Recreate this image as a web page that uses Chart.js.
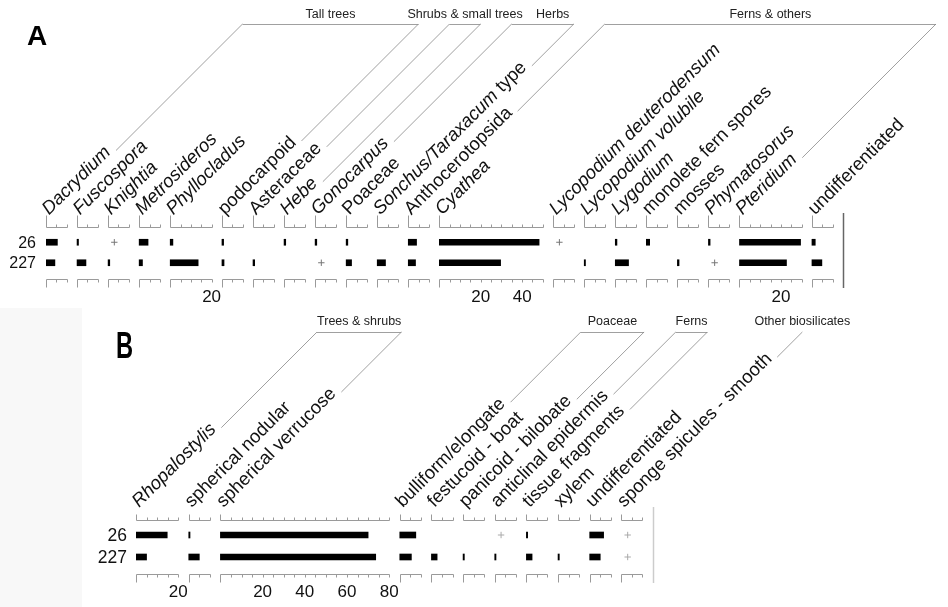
<!DOCTYPE html>
<html><head><meta charset="utf-8">
<script src="https://cdn.jsdelivr.net/npm/chart.js@4/dist/chart.umd.min.js"></script>
<style>
html,body{margin:0;padding:0;background:#fff;}
#wrap{position:relative;width:948px;height:607px;overflow:hidden;background:#fff;}
#wrap canvas{position:absolute;left:0;top:0;}
</style></head><body>
<div id="wrap">
<div style="position:absolute;left:0;top:308px;width:82px;height:299px;background:#f8f8f8"></div>
<canvas id="cA" width="948" height="607"></canvas>
<canvas id="cB" width="948" height="607"></canvas>
</div>
<script>
// ---------- data ----------
const samples = ['26', '227'];

// Panel A (pollen & spores, %)
const taxaA = ['*Dacrydium*','*Fuscospora*','*Knightia*','*Metrosideros*','*Phyllocladus*','podocarpoid','Asteraceae','*Hebe*','*Gonocarpus*','Poaceae','*Sonchus/Taraxacum* type','Anthocerotopsida','*Cyathea*','*Lycopodium deuterodensum*','*Lycopodium volubile*','*Lygodium*','monolete fern spores','mosses','*Phymatosorus*','*Pteridium*','undifferentiated'];
const axisMaxA = [10,10,10,10,20,10,10,10,10,10,10,10,50,10,10,10,10,10,10,30,10];
const valuesA_26  = [5.5,0.7,'+',4.3,1.3,0.8,null,0.8,0.8,0.8,null,4.0,48.2,'+',null,0.8,1.6,null,0.8,29.5,1.6];
const valuesA_227 = [4.3,4.3,0.8,1.6,13.5,1.0,0.8,null,'+',2.6,4.0,3.5,29.6,null,0.6,6.4,null,0.8,'+',22.7,4.8];
const groupsA = ['Tall trees','Shrubs & small trees','Herbs','Ferns & others'];
const groupFromA = [0,6,8,11];
const groupToA = [5,7,10,19];

// Panel B (phytoliths & biosilicates, %)
const taxaB = ['*Rhopalostylis*','spherical nodular','spherical verrucose','bulliform/elongate','festucoid - boat','panicoid - bilobate','anticlinal epidermis','tissue fragments','xylem','undifferentiated','sponge spicules - smooth'];
const axisMaxB = [20,10,80,10,10,10,10,10,10,10,10];
const valuesB_26  = [14.8,0.6,70.0,7.6,null,null,'+',0.6,null,6.6,'+'];
const valuesB_227 = [5.0,5.0,73.6,5.5,2.7,0.6,0.6,2.7,0.6,5.0,'+'];
const groupsB = ['Trees & shrubs','Poaceae','Ferns','Other biosilicates'];
const groupFromB = [0,3,6,10];
const groupToB = [2,5,7,10];

const tickStep = 5, tickLabelStep = 20, gapUnits = 5;

// ---------- layout ----------
const layoutA = {letter:'A', padding:{left:46,right:105,top:232,bottom:334}, axisTop:227, axisBot:279, topTick:12,
  rowFont:16, rowGap:10, groupLineY:24, groupTextY:18, labelRise:11.5, traceColor:'#777', frameColor:'#666',
  frameTop:213, frameBot:288, groupShift:{2:10}};
const layoutB = {letter:'B', padding:{left:136,right:295,top:524,bottom:39}, axisTop:520, axisBot:574, topTick:6,
  rowFont:17.5, rowGap:9, groupLineY:332, groupTextY:325, labelRise:12, traceColor:'#aaa', frameColor:'#ccc',
  frameTop:507, frameBot:583, groupShift:{}};

const FONT = '"Liberation Sans", Arial, Helvetica, sans-serif';
const LABEL_SIZE = 18.5;

function segs(str){ return str.split('*').map((t,k)=>({text:t, italic:k%2===1})).filter(s=>s.text.length); }
function segFont(s,size){ return (s.italic?'italic ':'') + size + 'px ' + FONT; }
function richWidth(ctx, ss, size){ let w=0; ss.forEach(s=>{ctx.font=segFont(s,size); w+=ctx.measureText(s.text).width;}); return w; }
function drawRich(ctx, ss, size){ let x=0; ss.forEach(s=>{ctx.font=segFont(s,size); ctx.fillText(s.text,x,0); x+=ctx.measureText(s.text).width;}); }
function line(ctx,x1,y1,x2,y2){ ctx.beginPath(); ctx.moveTo(x1,y1); ctx.lineTo(x2,y2); ctx.stroke(); }

function build(id, taxa, axisMax, vals, groups, gFrom, gTo, L){
  let s = 0;
  const starts = axisMax.map(r=>{ const v=s; s += r + gapUnits; return v; });
  const xMax = s;
  const datasets = [];
  taxa.forEach((t,i)=>{
    datasets.push({type:'bar', label:t.replace(/\*/g,''),
      data: samples.map((_,j)=> typeof vals[j][i]==='number' ? [starts[i], starts[i]+vals[j][i]] : null),
      backgroundColor:'#000', borderWidth:0, barThickness:6, grouped:false, borderSkipped:false});
  });
  const tr = [];
  taxa.forEach((t,i)=>{ samples.forEach((sm,j)=>{ if(vals[j][i]==='+') tr.push({x:starts[i]+3, y:sm}); }); });
  datasets.push({type:'scatter', label:'trace', data:tr, pointStyle:'cross', pointRadius:3.2,
    borderColor:L.traceColor, backgroundColor:L.traceColor, borderWidth:1});

  const deco = {id:'deco'+id, afterDraw(chart){
    const ctx = chart.ctx, xs = chart.scales.x, ys = chart.scales.y, ca = chart.chartArea;
    ctx.save();
    // sample labels
    ctx.fillStyle='#111'; ctx.font = L.rowFont+'px '+FONT; ctx.textAlign='right'; ctx.textBaseline='middle';
    samples.forEach(sm=>ctx.fillText(sm, ca.left - L.rowGap, ys.getPixelForValue(sm)+1));
    // column axes
    ctx.strokeStyle='#9a9a9a'; ctx.lineWidth=1;
    const ends = [];
    taxa.forEach((t,i)=>{
      const x0 = Math.round(xs.getPixelForValue(starts[i]))+0.5;
      const x1 = Math.round(xs.getPixelForValue(starts[i]+axisMax[i]))+0.5;
      const yt = L.axisTop+0.5, yb = L.axisBot+0.5;
      line(ctx,x0,yt,x1,yt); line(ctx,x0,yb,x1,yb);
      for(let v=0; v<=axisMax[i]; v+=tickStep){
        const px = Math.round(xs.getPixelForValue(starts[i]+v))+0.5;
        line(ctx,px,yt,px,yt-(v===0?L.topTick:3));
        line(ctx,px,yb,px,yb+(v===0?8:3));
      }
      ctx.fillStyle='#111'; ctx.font='17px '+FONT; ctx.textAlign='center'; ctx.textBaseline='middle';
      for(let v=tickLabelStep; v<=axisMax[i]; v+=tickLabelStep){
        ctx.fillText(String(v), xs.getPixelForValue(starts[i]+v), L.axisBot+18);
      }
      // taxon label
      const ss = segs(t);
      const ax = xs.getPixelForValue(starts[i]) + 3, ay = L.axisTop - L.labelRise;
      ctx.save(); ctx.translate(ax, ay); ctx.rotate(-Math.PI/4);
      ctx.textAlign='left'; ctx.textBaseline='alphabetic'; ctx.fillStyle='#111';
      drawRich(ctx, ss, LABEL_SIZE); ctx.restore();
      const w = richWidth(ctx, ss, LABEL_SIZE) + 5;
      const c = Math.SQRT1_2;
      ends.push({x: ax + w*c + 1, y: ay - w*c + 1});
    });
    // group brackets
    ctx.strokeStyle='#888'; ctx.lineWidth=0.8;
    groups.forEach((g,k)=>{
      const a = ends[gFrom[k]], b = ends[gTo[k]];
      const gy = L.groupLineY;
      const ta = a.x + a.y - gy, tb = b.x + b.y - gy;
      line(ctx, a.x, a.y, ta, gy);
      if(gTo[k]!==gFrom[k]) line(ctx, b.x, b.y, tb, gy);
      line(ctx, ta, gy+0.5, tb, gy+0.5);
      ctx.fillStyle='#222'; ctx.font='12.5px '+FONT; ctx.textAlign='center'; ctx.textBaseline='alphabetic';
      ctx.fillText(g, (ta+tb)/2 + (L.groupShift[k]||0), L.groupTextY);
    });
    // right frame line
    ctx.strokeStyle=L.frameColor; ctx.lineWidth=1.5;
    line(ctx, Math.round(ca.right)+0.5, L.frameTop, Math.round(ca.right)+0.5, L.frameBot);
    // panel letter
    ctx.fillStyle='#000'; ctx.textAlign='left'; ctx.textBaseline='alphabetic';
    if(L.letter==='A'){ ctx.font='bold 28px '+FONT; ctx.fillText('A',27,45); }
    else { ctx.translate(116,358); ctx.scale(0.64,1); ctx.font='bold 37px '+FONT; ctx.fillText('B',0,0); }
    ctx.restore();
  }};

  return new Chart(document.getElementById(id), {
    type:'bar',
    data:{labels:samples, datasets},
    options:{indexAxis:'y', responsive:false, animation:false, devicePixelRatio:1,
      layout:{padding:L.padding},
      plugins:{legend:{display:false}, title:{display:false}, tooltip:{enabled:false}},
      scales:{
        x:{type:'linear', min:0, max:xMax, display:false},
        y:{type:'category', labels:samples, display:false, offset:true}
      }},
    plugins:[deco]
  });
}

build('cA', taxaA, axisMaxA, [valuesA_26, valuesA_227], groupsA, groupFromA, groupToA, layoutA);
build('cB', taxaB, axisMaxB, [valuesB_26, valuesB_227], groupsB, groupFromB, groupToB, layoutB);
</script>
</body></html>
